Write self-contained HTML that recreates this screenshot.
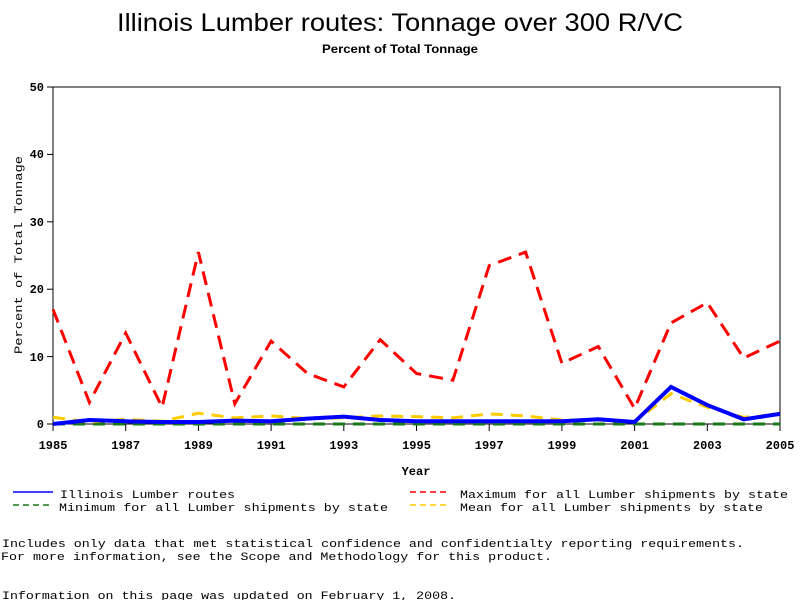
<!DOCTYPE html>
<html><head><meta charset="utf-8"><style>
html,body{margin:0;padding:0;background:#fff;width:800px;height:600px;overflow:hidden}
svg text{font-family:"Liberation Mono",monospace;fill:#000}
</style></head><body>
<svg width="800" height="600" viewBox="0 0 800 600" xmlns="http://www.w3.org/2000/svg">
<text x="400" y="31" text-anchor="middle" style="font-family:'Liberation Sans',sans-serif;font-size:25px" textLength="566" lengthAdjust="spacingAndGlyphs">Illinois Lumber routes: Tonnage over 300 R/VC</text>
<text x="400" y="53" text-anchor="middle" style="font-family:'Liberation Sans',sans-serif;font-size:12px;font-weight:bold" textLength="156" lengthAdjust="spacingAndGlyphs">Percent of Total Tonnage</text>
<rect x="53" y="87" width="727" height="337" fill="none" stroke="#000" stroke-width="1"/>
<g stroke="#000" stroke-width="1">
<line x1="47" y1="87" x2="53" y2="87"/><line x1="47" y1="154.4" x2="53" y2="154.4"/><line x1="47" y1="221.8" x2="53" y2="221.8"/><line x1="47" y1="289.2" x2="53" y2="289.2"/><line x1="47" y1="356.6" x2="53" y2="356.6"/><line x1="47" y1="424" x2="53" y2="424"/>
<line x1="53" y1="424" x2="53" y2="431"/><line x1="125.7" y1="424" x2="125.7" y2="431"/><line x1="198.4" y1="424" x2="198.4" y2="431"/><line x1="271.1" y1="424" x2="271.1" y2="431"/><line x1="343.8" y1="424" x2="343.8" y2="431"/><line x1="416.5" y1="424" x2="416.5" y2="431"/><line x1="489.2" y1="424" x2="489.2" y2="431"/><line x1="561.9" y1="424" x2="561.9" y2="431"/><line x1="634.6" y1="424" x2="634.6" y2="431"/><line x1="707.3" y1="424" x2="707.3" y2="431"/><line x1="780" y1="424" x2="780" y2="431"/>
</g>
<g style="font-size:12px;font-weight:bold" text-anchor="end">
<text x="44" y="91">50</text><text x="44" y="158">40</text><text x="44" y="226">30</text><text x="44" y="293">20</text><text x="44" y="361">10</text><text x="44" y="428">0</text>
</g>
<g style="font-size:12px;font-weight:bold" text-anchor="middle">
<text x="53" y="449">1985</text><text x="125.7" y="449">1987</text><text x="198.4" y="449">1989</text><text x="271.1" y="449">1991</text><text x="343.8" y="449">1993</text><text x="416.5" y="449">1995</text><text x="489.2" y="449">1997</text><text x="561.9" y="449">1999</text><text x="634.6" y="449">2001</text><text x="707.3" y="449">2003</text><text x="780" y="449">2005</text>
<text x="416" y="475">Year</text>
</g>
<text transform="translate(22,255) rotate(-90)" text-anchor="middle" style="font-size:11px" textLength="198" lengthAdjust="spacingAndGlyphs">Percent of Total Tonnage</text>
<line x1="53" y1="424" x2="780" y2="424" stroke="#1a7a1a" stroke-width="3" stroke-dasharray="12,8"/>
<polyline fill="none" stroke="#ffcc00" stroke-width="3" stroke-dasharray="12,8" points="53,417.3 89.4,422 125.7,419.3 162.1,421.3 198.4,413.2 234.8,417.9 271.1,415.9 307.5,418.6 343.8,417.9 380.2,415.9 416.5,416.6 452.9,417.9 489.2,413.9 525.6,415.9 561.9,420 598.3,420 634.6,422 671,393.7 707.3,407.2 743.7,417.3 780,414.6"/>
<polyline fill="none" stroke="#0000ff" stroke-width="4" points="53,424 89.4,420 125.7,421.3 162.1,422 198.4,422 234.8,420.6 271.1,421.3 307.5,418.6 343.8,416.6 380.2,420 416.5,421.3 452.9,421.3 489.2,421.3 525.6,421.3 561.9,421.3 598.3,419.3 634.6,422 671,386.9 707.3,405.1 743.7,419.3 780,413.9"/>
<polyline fill="none" stroke="#ff0000" stroke-width="3" stroke-dasharray="14,8" points="53,309.4 89.4,402.4 125.7,333 162.1,407.2 198.4,252.1 234.8,403.8 271.1,341.1 307.5,373.5 343.8,386.9 380.2,339.7 416.5,373.5 452.9,380.2 489.2,265.6 525.6,252.1 561.9,363.3 598.3,346.5 634.6,408.5 671,322.9 707.3,302.7 743.7,358 780,341.1"/>
<line x1="13" y1="492" x2="53" y2="492" stroke="#0000ff" stroke-width="1.5"/>
<line x1="13" y1="505" x2="53" y2="505" stroke="#1a7a1a" stroke-width="1.5" stroke-dasharray="6,4"/>
<line x1="410" y1="492" x2="450" y2="492" stroke="#ff0000" stroke-width="1.5" stroke-dasharray="6,4"/>
<line x1="410" y1="505" x2="450" y2="505" stroke="#ffcc00" stroke-width="1.5" stroke-dasharray="6,4"/>
<g style="font-size:11px">
<text x="60" y="498" textLength="175" lengthAdjust="spacingAndGlyphs">Illinois Lumber routes</text>
<text x="59" y="511" textLength="329" lengthAdjust="spacingAndGlyphs">Minimum for all Lumber shipments by state</text>
<text x="460" y="498" textLength="328" lengthAdjust="spacingAndGlyphs">Maximum for all Lumber shipments by state</text>
<text x="460" y="511" textLength="303" lengthAdjust="spacingAndGlyphs">Mean for all Lumber shipments by state</text>
<text x="2" y="547" style="font-size:11px" textLength="742" lengthAdjust="spacingAndGlyphs">Includes only data that met statistical confidence and confidentialty reporting requirements.</text>
<text x="1" y="560" textLength="551" lengthAdjust="spacingAndGlyphs">For more information, see the Scope and Methodology for this product.</text>
<text x="2" y="599" textLength="454" lengthAdjust="spacingAndGlyphs">Information on this page was updated on February 1, 2008.</text>
</g>
</svg>
</body></html>
